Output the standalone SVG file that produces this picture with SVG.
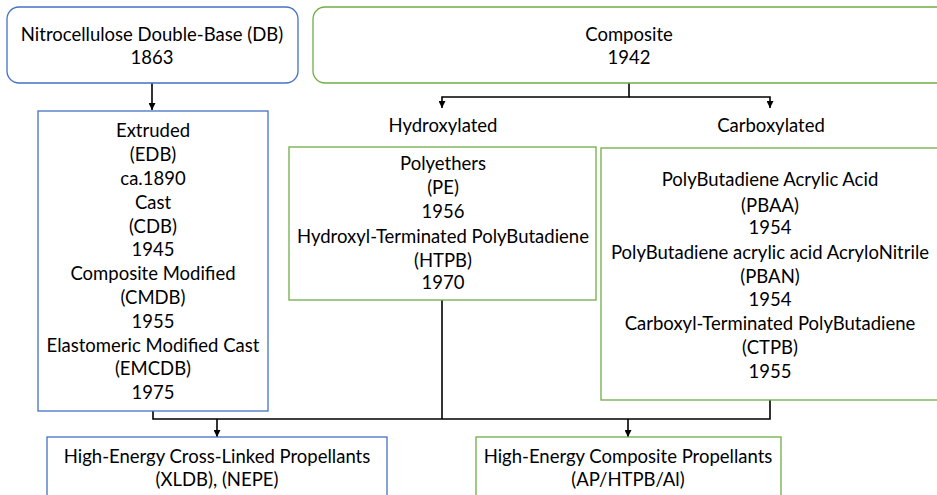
<svg xmlns="http://www.w3.org/2000/svg" width="937" height="495" viewBox="0 0 937 495">
<style>
text{font-family:Lato,"Liberation Sans",sans-serif;font-size:18.5px;fill:#000;text-anchor:middle}
.blue{fill:#fff;stroke:#4472C4;stroke-width:1.3}
.green{fill:#fff;stroke:#70AD47;stroke-width:1.3}
.conn{fill:none;stroke:#000;stroke-width:1.6}
</style>
<defs>
<marker id="arr" viewBox="0 0 10 10" refX="10" refY="5" markerWidth="7" markerHeight="7" markerUnits="userSpaceOnUse" orient="auto">
<path d="M0,0 L10,5 L0,10 z" fill="#000"/>
</marker>
</defs>
<rect width="937" height="495" fill="#fff"/>
<g id="connectors">
<path class="conn" d="M152,83 V110" marker-end="url(#arr)"/>
<path class="conn" d="M629,83 V97 H442 V108" marker-end="url(#arr)"/>
<path class="conn" d="M629,97 H770 V108" marker-end="url(#arr)"/>
<path class="conn" d="M153,411 V419 H770 V400"/>
<path class="conn" d="M442,300 V419"/>
<path class="conn" d="M217,419 V437" marker-end="url(#arr)"/>
<path class="conn" d="M628,419 V437" marker-end="url(#arr)"/>
</g>
<g id="db">
<rect class="blue" x="7" y="7" width="291" height="76" rx="12"/>
<text x="152" y="41">Nitrocellulose Double-Base (DB)</text>
<text x="152" y="64">1863</text>
</g>
<g id="composite">
<rect class="green" x="313" y="7" width="640" height="76" rx="12"/>
<text x="629" y="41">Composite</text>
<text x="629" y="64">1942</text>
</g>
<g id="hydroxylated">
<text x="443" y="132">Hydroxylated</text>
</g>
<g id="carboxylated">
<text x="771" y="132">Carboxylated</text>
</g>
<g id="extruded">
<rect class="blue" x="38" y="111" width="230" height="300"/>
<text x="153" y="137">Extruded</text>
<text x="153" y="161">(EDB)</text>
<text x="153" y="185">ca.1890</text>
<text x="153" y="209">Cast</text>
<text x="153" y="233">(CDB)</text>
<text x="153" y="256">1945</text>
<text x="153" y="280">Composite Modified</text>
<text x="153" y="304">(CMDB)</text>
<text x="153" y="328">1955</text>
<text x="153" y="352">Elastomeric Modified Cast</text>
<text x="153" y="375">(EMCDB)</text>
<text x="153" y="399">1975</text>
</g>
<g id="pe">
<rect class="green" x="289" y="147" width="307" height="153"/>
<text x="443" y="170">Polyethers</text>
<text x="443" y="194">(PE)</text>
<text x="443" y="218">1956</text>
<text x="443" y="243">Hydroxyl-Terminated PolyButadiene</text>
<text x="443" y="267">(HTPB)</text>
<text x="443" y="289">1970</text>
</g>
<g id="pbaa">
<rect class="green" x="601" y="148" width="339" height="252"/>
<text x="770" y="186">PolyButadiene Acrylic Acid</text>
<text x="770" y="212">(PBAA)</text>
<text x="770" y="234">1954</text>
<text x="770" y="259">PolyButadiene acrylic acid AcryloNitrile</text>
<text x="770" y="283">(PBAN)</text>
<text x="770" y="306">1954</text>
<text x="770" y="330">Carboxyl-Terminated PolyButadiene</text>
<text x="770" y="354">(CTPB)</text>
<text x="770" y="378">1955</text>
</g>
<g id="xldb">
<rect class="blue" x="47" y="437" width="340" height="70"/>
<text x="217" y="463">High-Energy Cross-Linked Propellants</text>
<text x="217" y="486">(XLDB), (NEPE)</text>
</g>
<g id="hecp">
<rect class="green" x="476" y="437" width="305" height="70"/>
<text x="628" y="463">High-Energy Composite Propellants</text>
<text x="628" y="486">(AP/HTPB/Al)</text>
</g>
</svg>
